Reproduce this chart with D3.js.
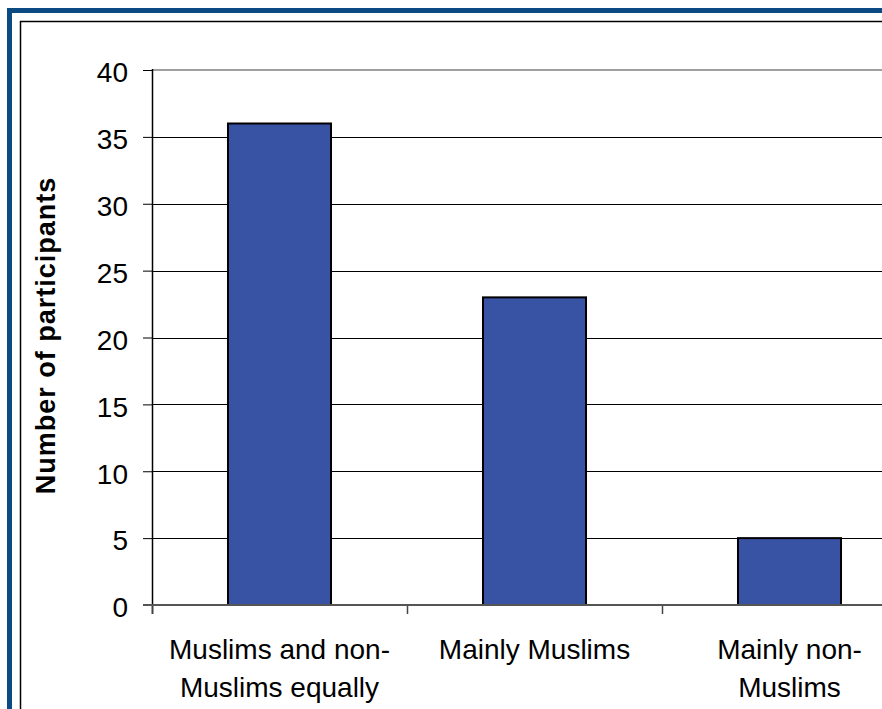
<!DOCTYPE html>
<html>
<head>
<meta charset="utf-8">
<script src="https://cdn.jsdelivr.net/npm/d3@7"></script>
<style>
  html, body { margin: 0; padding: 0; background: #fff; overflow: hidden; }
  svg { display: block; }
  text { font-family: "Liberation Sans", Arial, sans-serif; fill: #000; }
</style>
</head>
<body>
<script>
// Survey answers: who participants mostly socialise with
const categories = [
  ["Muslims and non-", "Muslims equally"],
  ["Mainly Muslims"],
  ["Mainly non-", "Muslims"]
];
const values = [36, 23, 5];
const yTicks = [0, 5, 10, 15, 20, 25, 30, 35, 40];
const yTitle = "Number of participants";

const W = 882, H = 709;
const svg = d3.select("body").append("svg").attr("width", W).attr("height", H);

// Outer frame: blue border with a thin black inner rule
svg.append("rect").attr("x", 9.5).attr("y", 10.5).attr("width", W + 40).attr("height", H + 40)
  .attr("fill", "#fff").attr("stroke", "#0b4a82").attr("stroke-width", 5);
svg.append("rect").attr("x", 20.5).attr("y", 21.5).attr("width", W + 40).attr("height", H + 40)
  .attr("fill", "none").attr("stroke", "#000").attr("stroke-width", 1.5);

const plot = { left: 152, top: 70, bottom: 605, right: 917 };

const x = d3.scaleBand()
  .domain(d3.range(categories.length))
  .range([plot.left, plot.right])
  .paddingInner(0.596)
  .paddingOuter(0.298);

const y = d3.scaleLinear().domain([0, 40]).range([plot.bottom, plot.top]);

// Horizontal gridlines
svg.append("g")
  .selectAll("line")
  .data(yTicks.filter(t => t > 0 && t < 40))
  .join("line")
  .attr("x1", plot.left).attr("x2", W)
  .attr("y1", d => Math.round(y(d)) + 0.5).attr("y2", d => Math.round(y(d)) + 0.5)
  .attr("stroke", "#000").attr("stroke-width", 1);

// Top edge of the plot area
svg.append("line")
  .attr("x1", plot.left).attr("x2", W)
  .attr("y1", y(40)).attr("y2", y(40))
  .attr("stroke", "#a0a0a0").attr("stroke-width", 2);

// Bars
svg.append("g")
  .selectAll("rect")
  .data(values)
  .join("rect")
  .attr("x", (d, i) => x(i))
  .attr("y", d => y(d))
  .attr("width", x.bandwidth())
  .attr("height", d => y(0) - y(d))
  .attr("fill", "#3953a4")
  .attr("stroke", "#000")
  .attr("stroke-width", 2);

// Y axis
const yAxis = svg.append("g")
  .attr("transform", `translate(${plot.left},0)`)
  .call(d3.axisLeft(y).tickValues(yTicks).tickSize(9).tickPadding(15).tickFormat(d3.format("d")));
yAxis.select(".domain").remove();
yAxis.selectAll(".tick line").attr("stroke", "#000").attr("stroke-width", 1);
yAxis.selectAll(".tick text")
  .attr("font-family", "Liberation Sans, Arial, sans-serif")
  .attr("font-size", 28)
  .attr("dy", "0.42em");
svg.append("line")
  .attr("x1", plot.left + 0.5).attr("x2", plot.left + 0.5)
  .attr("y1", plot.top - 1).attr("y2", plot.bottom + 9)
  .attr("stroke", "#000").attr("stroke-width", 1.5);

// Category boundary ticks
const step = x.step();
svg.append("g")
  .selectAll("line")
  .data(d3.range(categories.length + 1))
  .join("line")
  .attr("x1", i => x(0) - x.paddingOuter() * step + i * step + 0.5)
  .attr("x2", i => x(0) - x.paddingOuter() * step + i * step + 0.5)
  .attr("y1", plot.bottom).attr("y2", plot.bottom + 9)
  .attr("stroke", "#444").attr("stroke-width", 1.5);

// Baseline
svg.append("line")
  .attr("x1", plot.left - 9).attr("x2", W)
  .attr("y1", y(0)).attr("y2", y(0))
  .attr("stroke", "#555").attr("stroke-width", 2);

// Category labels
const labels = svg.append("g")
  .selectAll("text")
  .data(categories)
  .join("text")
  .attr("text-anchor", "middle")
  .attr("font-size", 28)
  .attr("x", (d, i) => x(i) + x.bandwidth() / 2)
  .attr("y", 659);
labels.selectAll("tspan")
  .data(d => d)
  .join("tspan")
  .attr("x", function () { return this.parentNode.getAttribute("x"); })
  .attr("dy", (d, i) => i === 0 ? 0 : 38)
  .text(d => d);

// Y axis title
svg.append("text")
  .attr("transform", `translate(55,${(178 + 493) / 2}) rotate(-90)`)
  .attr("text-anchor", "middle")
  .attr("font-size", 27)
  .attr("font-weight", "bold")
  .attr("letter-spacing", "1px")
  .text(yTitle);
</script>
</body>
</html>
